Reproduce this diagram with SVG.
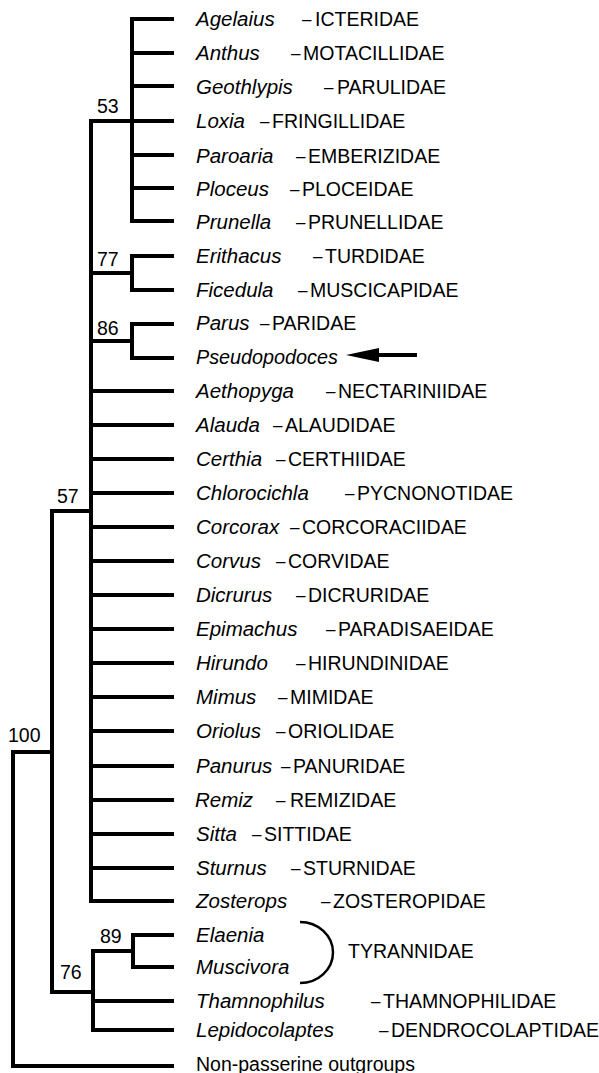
<svg xmlns="http://www.w3.org/2000/svg" width="599" height="1073" viewBox="0 0 599 1073">
<style>
text{font-family:"Liberation Sans",Arial,Helvetica,sans-serif;font-size:19.5px;fill:#000}
.sp{font-style:italic;font-size:20.5px}
.d{font-size:17px}
.br{stroke:#000;stroke-width:4;fill:none;stroke-linecap:square;stroke-linejoin:miter}
</style>
<rect width="599" height="1073" fill="#fff"/>
<g id="connectors">
<path class="br" d="M132,19 V221 M132,19 H172 M132,53 H172 M132,86 H172 M132,121 H172 M132,155 H172 M132,188 H172 M132,221 H172 M91,121 H132"/>
<path class="br" d="M132,256 V290 M132,256 H172 M132,290 H172 M91,273 H132"/>
<path class="br" d="M132,324 V358 M132,324 H172 M132,358 H172 M91,341 H132"/>
<path class="br" d="M91,121 V901 M91,391 H172 M91,425 H172 M91,459 H172 M91,493 H172 M91,527 H172 M91,561 H172 M91,595 H172 M91,629 H172 M91,663 H172 M91,697 H172 M91,731 H172 M91,766 H172 M91,800 H172 M91,834 H172 M91,868 H172 M91,901 H172"/>
<path class="br" d="M52,511 V992 M52,511 H91 M52,992 H93"/>
<path class="br" d="M93,951 V1030 M93,951 H133 M133,935 V967 M133,935 H172 M133,967 H172 M93,1001 H172 M93,1030 H172"/>
<path class="br" d="M13,752 V1066 M13,752 H52 M13,1066 H172"/>
<path d="M300,922 A33,30.5 0 0 1 300,983" fill="none" stroke="#000" stroke-width="2.5"/>
<line x1="417" y1="355" x2="370" y2="355" stroke="#000" stroke-width="4"/>
<path d="M346,355 L379,348 L379,362 Z" fill="#000"/>
</g>
<g id="support">
<text x="97" y="113">53</text>
<text x="97" y="266">77</text>
<text x="97" y="335">86</text>
<text x="57" y="503">57</text>
<text x="8" y="742">100</text>
<text x="100" y="943">89</text>
<text x="60" y="979">76</text>
</g>
<g id="n1"><text class="sp" x="196" y="26">Agelaius</text><text x="302" y="26"><tspan class="d" dy="-1">–</tspan><tspan x="315" dy="1">ICTERIDAE</tspan></text></g>
<g id="n2"><text class="sp" x="196" y="60">Anthus</text><text x="291" y="60"><tspan class="d" dy="-1">–</tspan><tspan x="303" dy="1">MOTACILLIDAE</tspan></text></g>
<g id="n3"><text class="sp" x="196" y="94">Geothlypis</text><text x="324" y="94"><tspan class="d" dy="-1">–</tspan><tspan x="337" dy="1">PARULIDAE</tspan></text></g>
<g id="n4"><text class="sp" x="196" y="128">Loxia</text><text x="260" y="128"><tspan class="d" dy="-1">–</tspan><tspan x="272" dy="1">FRINGILLIDAE</tspan></text></g>
<g id="n5"><text class="sp" x="196" y="163">Paroaria</text><text x="296" y="163"><tspan class="d" dy="-1">–</tspan><tspan x="308" dy="1">EMBERIZIDAE</tspan></text></g>
<g id="n6"><text class="sp" x="196" y="196">Ploceus</text><text x="290" y="196"><tspan class="d" dy="-1">–</tspan><tspan x="302" dy="1">PLOCEIDAE</tspan></text></g>
<g id="n7"><text class="sp" x="196" y="229">Prunella</text><text x="296" y="229"><tspan class="d" dy="-1">–</tspan><tspan x="308" dy="1">PRUNELLIDAE</tspan></text></g>
<g id="n8"><text class="sp" x="196" y="263">Erithacus</text><text x="313" y="263"><tspan class="d" dy="-1">–</tspan><tspan x="325" dy="1">TURDIDAE</tspan></text></g>
<g id="n9"><text class="sp" x="196" y="297">Ficedula</text><text x="298" y="297"><tspan class="d" dy="-1">–</tspan><tspan x="310" dy="1">MUSCICAPIDAE</tspan></text></g>
<g id="n10"><text class="sp" x="196" y="330">Parus</text><text x="260" y="330"><tspan class="d" dy="-1">–</tspan><tspan x="272" dy="1">PARIDAE</tspan></text></g>
<g id="n11"><text class="sp" x="196" y="364" style="font-size:19.8px">Pseudopodoces</text></g>
<g id="n12"><text class="sp" x="196" y="398">Aethopyga</text><text x="326" y="398"><tspan class="d" dy="-1">–</tspan><tspan x="338" dy="1">NECTARINIIDAE</tspan></text></g>
<g id="n13"><text class="sp" x="196" y="432">Alauda</text><text x="273" y="432"><tspan class="d" dy="-1">–</tspan><tspan x="285" dy="1">ALAUDIDAE</tspan></text></g>
<g id="n14"><text class="sp" x="196" y="466">Certhia</text><text x="276" y="466"><tspan class="d" dy="-1">–</tspan><tspan x="288" dy="1">CERTHIIDAE</tspan></text></g>
<g id="n15"><text class="sp" x="196" y="500">Chlorocichla</text><text x="345" y="500"><tspan class="d" dy="-1">–</tspan><tspan x="357" dy="1">PYCNONOTIDAE</tspan></text></g>
<g id="n16"><text class="sp" x="196" y="534">Corcorax</text><text x="290" y="534"><tspan class="d" dy="-1">–</tspan><tspan x="302" dy="1">CORCORACIIDAE</tspan></text></g>
<g id="n17"><text class="sp" x="196" y="568">Corvus</text><text x="276" y="568"><tspan class="d" dy="-1">–</tspan><tspan x="288" dy="1">CORVIDAE</tspan></text></g>
<g id="n18"><text class="sp" x="196" y="602">Dicrurus</text><text x="296" y="602"><tspan class="d" dy="-1">–</tspan><tspan x="308" dy="1">DICRURIDAE</tspan></text></g>
<g id="n19"><text class="sp" x="196" y="636">Epimachus</text><text x="326" y="636"><tspan class="d" dy="-1">–</tspan><tspan x="338" dy="1">PARADISAEIDAE</tspan></text></g>
<g id="n20"><text class="sp" x="196" y="670">Hirundo</text><text x="296" y="670"><tspan class="d" dy="-1">–</tspan><tspan x="308" dy="1">HIRUNDINIDAE</tspan></text></g>
<g id="n21"><text class="sp" x="196" y="704">Mimus</text><text x="278" y="704"><tspan class="d" dy="-1">–</tspan><tspan x="290" dy="1">MIMIDAE</tspan></text></g>
<g id="n22"><text class="sp" x="196" y="738">Oriolus</text><text x="276" y="738"><tspan class="d" dy="-1">–</tspan><tspan x="288" dy="1">ORIOLIDAE</tspan></text></g>
<g id="n23"><text class="sp" x="196" y="773">Panurus</text><text x="281" y="773"><tspan class="d" dy="-1">–</tspan><tspan x="293" dy="1">PANURIDAE</tspan></text></g>
<g id="n24"><text class="sp" x="195" y="807">Remiz</text><text x="276" y="807"><tspan class="d" dy="-1">–</tspan><tspan x="290" dy="1">REMIZIDAE</tspan></text></g>
<g id="n25"><text class="sp" x="196" y="841">Sitta</text><text x="252" y="841"><tspan class="d" dy="-1">–</tspan><tspan x="264" dy="1">SITTIDAE</tspan></text></g>
<g id="n26"><text class="sp" x="196" y="875">Sturnus</text><text x="291" y="875"><tspan class="d" dy="-1">–</tspan><tspan x="303" dy="1">STURNIDAE</tspan></text></g>
<g id="n27"><text class="sp" x="196" y="908">Zosterops</text><text x="321" y="908"><tspan class="d" dy="-1">–</tspan><tspan x="333" dy="1">ZOSTEROPIDAE</tspan></text></g>
<g id="n28"><text class="sp" x="196" y="942">Elaenia</text></g>
<g id="n29"><text class="sp" x="196" y="974">Muscivora</text></g>
<g id="tyr"><text x="348" y="958">TYRANNIDAE</text></g>
<g id="n30"><text class="sp" x="196" y="1008">Thamnophilus</text><text x="371" y="1008"><tspan class="d" dy="-1">–</tspan><tspan x="383" dy="1">THAMNOPHILIDAE</tspan></text></g>
<g id="n31"><text class="sp" x="196" y="1037">Lepidocolaptes</text><text x="379" y="1037"><tspan class="d" dy="-1">–</tspan><tspan x="391" dy="1">DENDROCOLAPTIDAE</tspan></text></g>
<g id="n32"><text x="196" y="1071">Non-passerine outgroups</text></g>
</svg>
